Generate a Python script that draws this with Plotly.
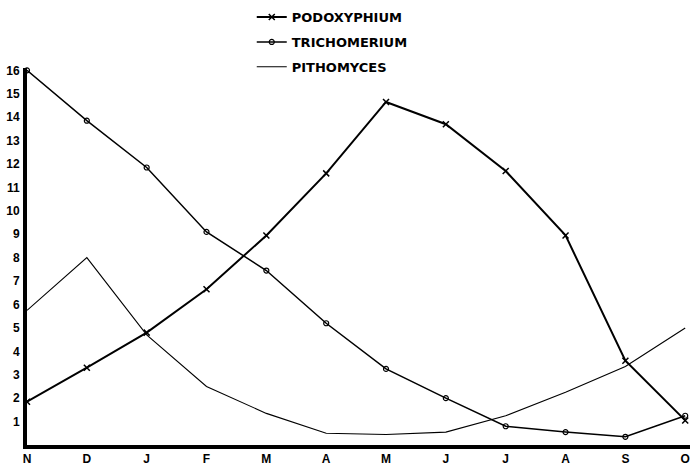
import plotly.graph_objects as go

months = ["N", "D", "J", "F", "M", "A", "M", "J", "J", "A", "S", "O"]
x_idx = list(range(len(months)))

podoxyphium = [1.85, 3.3, 4.8, 6.65, 8.95, 11.6, 14.65, 13.7, 11.7, 8.95, 3.6, 1.05]
trichomerium = [16.0, 13.85, 11.85, 9.1, 7.45, 5.2, 3.25, 2.0, 0.8, 0.55, 0.35, 1.25]
pithomyces = [5.75, 8.0, 4.7, 2.5, 1.35, 0.5, 0.45, 0.55, 1.25, 2.25, 3.35, 5.0]

y_ticks = list(range(1, 17))

fig = go.Figure()
fig.add_trace(go.Scatter(
    x=x_idx, y=podoxyphium, mode="lines+markers", name="PODOXYPHIUM",
    line=dict(color="black", width=2),
    marker=dict(symbol="x-thin", size=6, color="black", line=dict(width=1.5, color="black")),
    legend="legend", cliponaxis=False,
))
fig.add_trace(go.Scatter(
    x=x_idx, y=trichomerium, mode="lines+markers", name="TRICHOMERIUM",
    line=dict(color="black", width=1.5),
    marker=dict(symbol="circle-open", size=5, color="black", line=dict(width=1.2)),
    legend="legend2", cliponaxis=False,
))
fig.add_trace(go.Scatter(
    x=x_idx, y=pithomyces, mode="lines", name="PITHOMYCES",
    line=dict(color="black", width=1.1),
    legend="legend3", cliponaxis=False,
))

legend_font = dict(family="DejaVu Sans", size=13, color="black", weight="bold")
common_leg = dict(x=0.339, xanchor="left", yanchor="middle", bgcolor="rgba(0,0,0,0)",
                  font=legend_font, borderwidth=0)

fig.update_layout(
    width=693, height=471,
    margin=dict(l=27, r=3, t=68, b=26, autoexpand=False),
    paper_bgcolor="white", plot_bgcolor="white",
    showlegend=True,
    legend=dict(y=1.135, **common_leg),
    legend2=dict(y=1.069, **common_leg),
    legend3=dict(y=1.003, **common_leg),
    xaxis=dict(
        range=[0, 11.08], tickmode="array", tickvals=x_idx, ticktext=months,
        showgrid=False, zeroline=False, showline=True, linecolor="black", linewidth=4,
        ticks="", automargin=False,
        tickfont=dict(family="Liberation Sans", size=12, color="black", weight="bold"),
    ),
    yaxis=dict(
        range=[0, 16.1], tickmode="array", tickvals=y_ticks, ticktext=[str(v) for v in y_ticks],
        showgrid=False, zeroline=False, showline=True, linecolor="black", linewidth=4,
        ticks="", ticklabelstandoff=1, automargin=False,
        tickfont=dict(family="Liberation Sans", size=12, color="black", weight="bold"),
    ),
)

fig.write_html("out.html", config={"displayModeBar": False},
               post_script="document.body.style.margin='0';document.body.style.overflow='hidden';")
